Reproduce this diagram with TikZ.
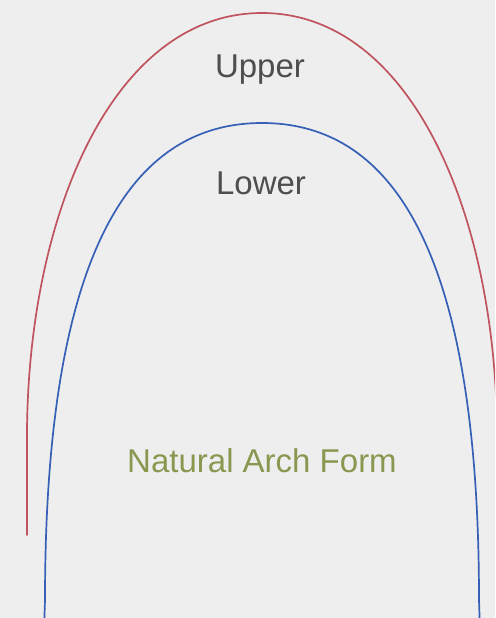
\documentclass[tikz,border=0pt]{standalone}
\usepackage{fontspec}
\setmainfont{Liberation Sans}
\usepackage{tikz}
\usepackage{xcolor}
\definecolor{bggray}{RGB}{238, 238, 238}
\definecolor{upperred}{RGB}{192, 84, 94}
\definecolor{lowerblue}{RGB}{54, 96, 182}
\definecolor{labelgray}{RGB}{78, 78, 78}
\definecolor{formgreen}{RGB}{136, 152, 80}

\begin{document}
\begin{tikzpicture}[x=1pt, y=-1pt]
    \tikzset{arch/.style={line width=1.7pt, line cap=round},
             archlabel/.style={font=\fontsize{33}{39}\selectfont, inner sep=0pt}}
    % Background
    \fill[bggray] (0,0) rectangle (495,618);
    \clip (0,0) rectangle (495,618);
    \useasboundingbox (0,0) rectangle (495,618);

    % Upper arch
    \draw[arch, upperred] (27,535) -- (27,430) .. controls (29,210) and (115,13) .. (262,13)
        .. controls (409,13) and (495,210) .. (497,430) -- (497,630);

    % Lower arch
    \draw[arch, lowerblue] (44,630) -- (45,600) .. controls (45,260) and (127,123) .. (262,123)
        .. controls (397,123) and (479,260) .. (479,600) -- (480,630);

    % Labels
    \node[archlabel, labelgray] (upper) at (260,70) {Upper};
    \node[archlabel, labelgray] (lower) at (261,183) {Lower};
    \node[archlabel, formgreen] (archform) at (262,461) {Natural Arch Form};
\end{tikzpicture}
\end{document}
